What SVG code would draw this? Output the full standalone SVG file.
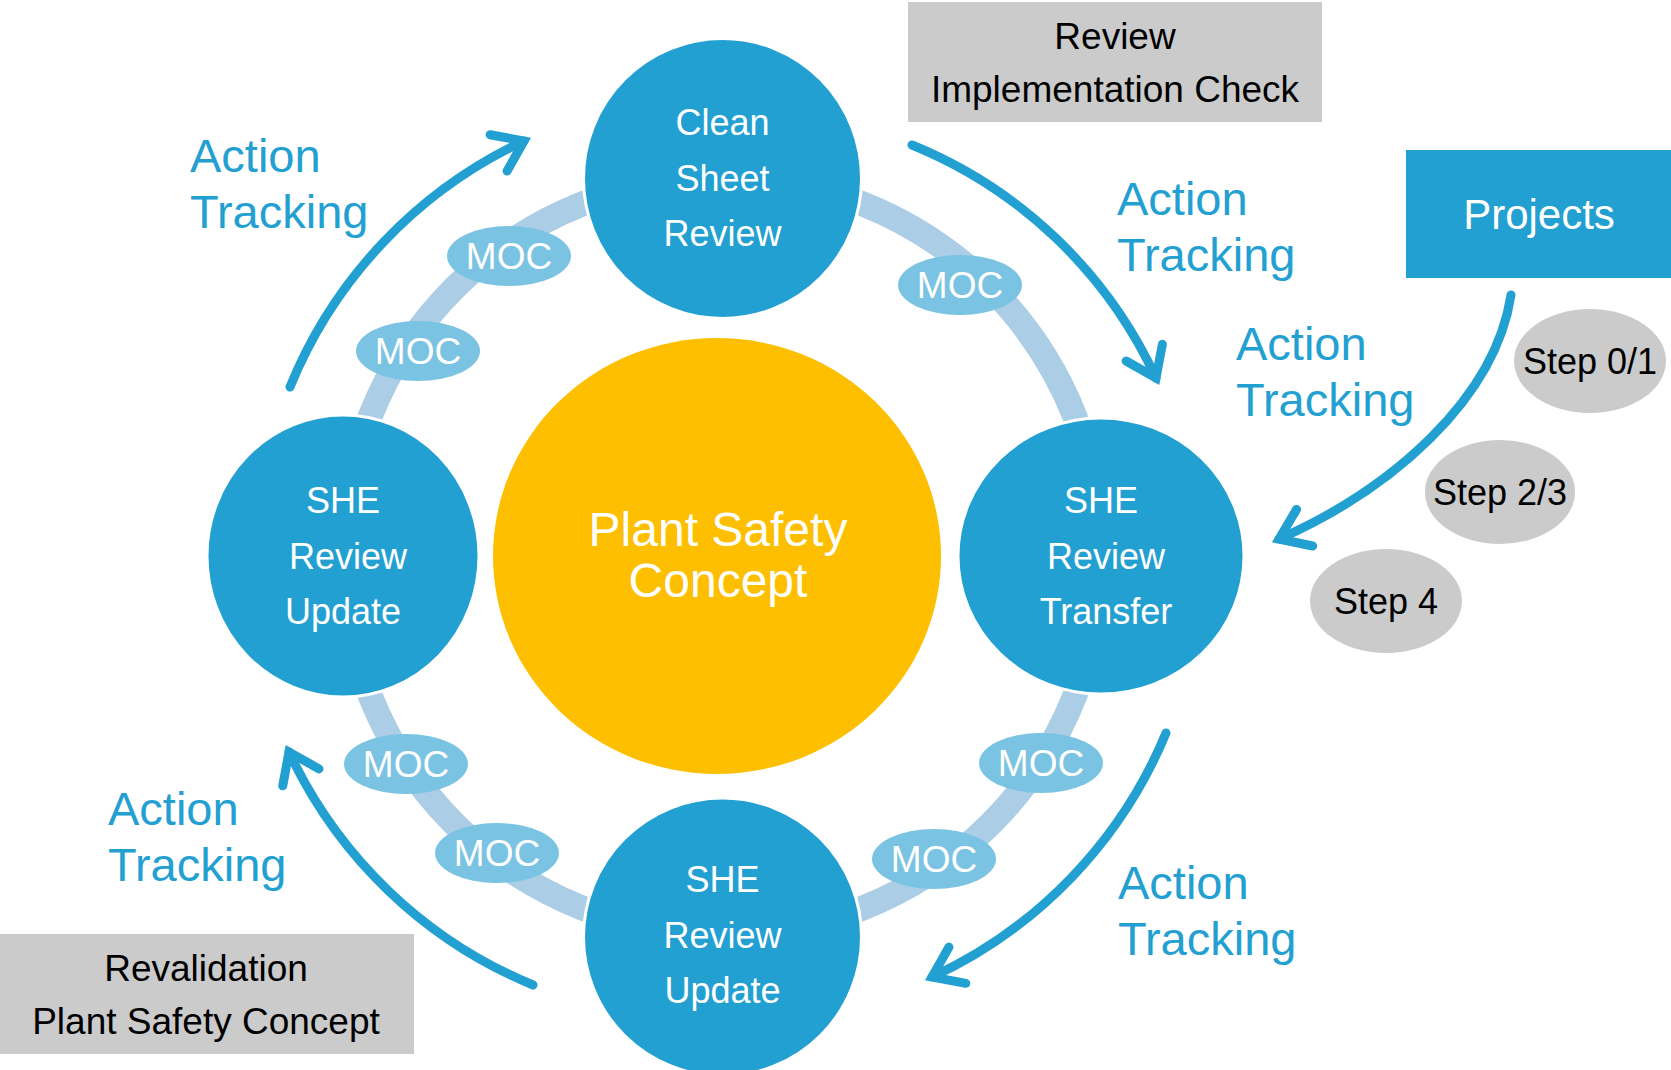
<svg xmlns="http://www.w3.org/2000/svg" width="1671" height="1070" viewBox="0 0 1671 1070">
<defs>
<style>
.node{fill:#23a0d2;stroke:#ffffff;stroke-width:3}
.nt{font-family:"Liberation Sans",Arial,sans-serif;font-size:36px;fill:#ffffff;text-anchor:middle}
.moc{fill:#7ac3e3}
.mt{font-family:"Liberation Sans",Arial,sans-serif;font-size:37px;fill:#ffffff;text-anchor:middle}
.at{font-family:"Liberation Sans",Arial,sans-serif;font-size:47px;fill:#23a0d2}
.gbox{fill:#cbcbcb}
.gt{font-family:"Liberation Sans",Arial,sans-serif;font-size:37px;fill:#000000;text-anchor:middle}
.step{fill:#cbcbcb}
.st{font-family:"Liberation Sans",Arial,sans-serif;font-size:36px;fill:#000000;text-anchor:middle}
.arr{fill:none;stroke:#23a0d2;stroke-width:9;stroke-linecap:round;marker-end:url(#chev)}
</style>
<marker id="chev" markerUnits="userSpaceOnUse" markerWidth="80" markerHeight="80" refX="0" refY="0" viewBox="-50 -40 80 80" orient="auto" overflow="visible">
<path d="M-28,-20 L0,0 L-28,20" fill="none" stroke="#23a0d2" stroke-width="9" stroke-linecap="round" stroke-linejoin="miter" stroke-miterlimit="10"/>
</marker>
</defs>

<g id="ring">
<circle cx="722.5" cy="556" r="379" fill="none" stroke="#abcde6" stroke-width="25"/>
</g>

<g id="connectors">
<path class="arr" d="M290,387 A465,465 0 0 1 524,141"/>
<path class="arr" d="M912,145 A460,460 0 0 1 1156,378"/>
<path class="arr" d="M1166,733 A465,465 0 0 1 932,977"/>
<path class="arr" d="M533,985 A465,465 0 0 1 289,752"/>
<path class="arr" d="M1511,295 C1495,400 1390,490 1279,539"/>
</g>

<g id="moc1"><ellipse class="moc" cx="509" cy="256" rx="62" ry="30"/><text class="mt" x="509" y="269">MOC</text></g>
<g id="moc2"><ellipse class="moc" cx="418" cy="351" rx="62" ry="30"/><text class="mt" x="418" y="364">MOC</text></g>
<g id="moc3"><ellipse class="moc" cx="960" cy="285" rx="62" ry="30"/><text class="mt" x="960" y="298">MOC</text></g>
<g id="moc4"><ellipse class="moc" cx="406" cy="764" rx="62" ry="30"/><text class="mt" x="406" y="777">MOC</text></g>
<g id="moc5"><ellipse class="moc" cx="497" cy="853" rx="62" ry="30"/><text class="mt" x="497" y="866">MOC</text></g>
<g id="moc6"><ellipse class="moc" cx="1041" cy="763" rx="62" ry="30"/><text class="mt" x="1041" y="776">MOC</text></g>
<g id="moc7"><ellipse class="moc" cx="934" cy="859" rx="62" ry="30"/><text class="mt" x="934" y="872">MOC</text></g>

<g id="center">
<ellipse cx="717" cy="556" rx="224" ry="218" fill="#fdbf00"/>
<text x="718" y="546" font-family="Liberation Sans, Arial, sans-serif" font-size="48" fill="#ffffff" text-anchor="middle">Plant Safety</text>
<text x="718" y="597" font-family="Liberation Sans, Arial, sans-serif" font-size="48" fill="#ffffff" text-anchor="middle">Concept</text>
</g>

<g id="clean-sheet-review">
<ellipse class="node" cx="722.5" cy="178.5" rx="139" ry="140"/>
<text class="nt" x="722.5" y="135">Clean</text>
<text class="nt" x="722.5" y="191">Sheet</text>
<text class="nt" x="722.5" y="246">Review</text>
</g>

<g id="she-review-update-left">
<ellipse class="node" cx="343" cy="556" rx="136" ry="141"/>
<text class="nt" x="343" y="513">SHE</text>
<text class="nt" x="348" y="569">Review</text>
<text class="nt" x="343" y="624">Update</text>
</g>

<g id="she-review-transfer">
<ellipse class="node" cx="1101" cy="556" rx="143" ry="138"/>
<text class="nt" x="1101" y="513">SHE</text>
<text class="nt" x="1106" y="569">Review</text>
<text class="nt" x="1106" y="624">Transfer</text>
</g>

<g id="she-review-update-bottom">
<ellipse class="node" cx="722.5" cy="937" rx="139" ry="139"/>
<text class="nt" x="722.5" y="892">SHE</text>
<text class="nt" x="722.5" y="948">Review</text>
<text class="nt" x="722.5" y="1003">Update</text>
</g>

<g id="labels">
<text class="at" x="190" y="172">Action</text>
<text class="at" x="190" y="228">Tracking</text>
<text class="at" x="1117" y="215">Action</text>
<text class="at" x="1117" y="271">Tracking</text>
<text class="at" x="1236" y="360">Action</text>
<text class="at" x="1236" y="416">Tracking</text>
<text class="at" x="108" y="825">Action</text>
<text class="at" x="108" y="881">Tracking</text>
<text class="at" x="1118" y="899">Action</text>
<text class="at" x="1118" y="955">Tracking</text>
</g>

<g id="review-implementation-check">
<rect class="gbox" x="908" y="2" width="414" height="120"/>
<text class="gt" x="1115" y="49">Review</text>
<text class="gt" x="1115" y="102">Implementation Check</text>
</g>

<g id="revalidation">
<rect class="gbox" x="0" y="934" width="414" height="120"/>
<text class="gt" x="206" y="981">Revalidation</text>
<text class="gt" x="206" y="1034">Plant Safety Concept</text>
</g>

<g id="projects">
<rect x="1406" y="150" width="265" height="128" fill="#23a0d2"/>
<text x="1539" y="229" font-family="Liberation Sans, Arial, sans-serif" font-size="42" fill="#ffffff" text-anchor="middle">Projects</text>
</g>

<g id="step01"><ellipse class="step" cx="1590" cy="361" rx="76" ry="52"/><text class="st" x="1590" y="374">Step 0/1</text></g>
<g id="step23"><ellipse class="step" cx="1500" cy="492" rx="75" ry="52"/><text class="st" x="1500" y="505">Step 2/3</text></g>
<g id="step4"><ellipse class="step" cx="1386" cy="601" rx="76" ry="52"/><text class="st" x="1386" y="614">Step 4</text></g>
</svg>
